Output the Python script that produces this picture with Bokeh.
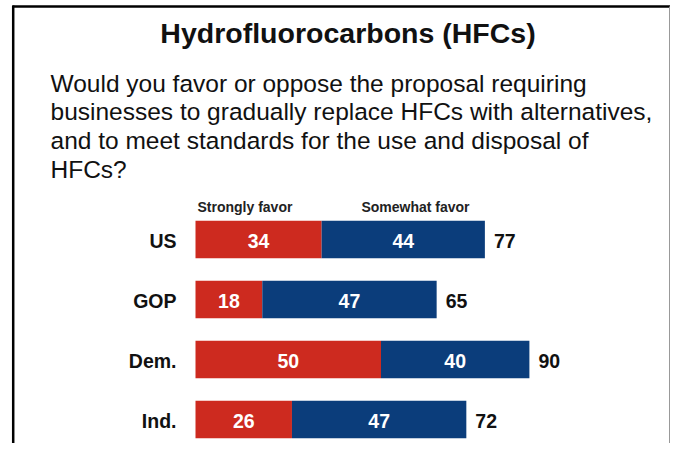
from bokeh.plotting import figure
from bokeh.models import Range1d, ColumnDataSource, Label
from bokeh.embed import file_html
from bokeh.resources import INLINE
from bokeh.core.properties import value

# ---- data ----
groups = ["US", "GOP", "Dem.", "Ind."]
strongly = [34, 18, 50, 26]
somewhat = [44, 47, 40, 47]
totals = [77, 65, 90, 72]
series_names = ["Strongly favor", "Somewhat favor"]
title_text = "Hydrofluorocarbons (HFCs)"
question_lines = [
    "Would you favor or oppose the proposal requiring",
    "businesses to gradually replace HFCs with alternatives,",
    "and to meet standards for the use and disposal of",
    "HFCs?",
]

# ---- layout constants ----
W, H = 670, 443
X0 = 195.0   # pixel of value 0
PX = 3.71    # pixels per percentage point
Y0 = 239.0   # pixel of first row centre
ROW = 60.0   # pixels per row
FONT = "Liberation Sans"
RED = "#CD2A1F"
BLUE = "#0B3D7B"


def dx(px):
    return (px - X0) / PX


def dy(py):
    return (py - Y0) / ROW


p = figure(width=W, height=H,
           x_range=Range1d(dx(0), dx(W)),
           y_range=Range1d(dy(H), dy(0)),
           output_backend="svg", toolbar_location=None,
           min_border=0, x_axis_type=None, y_axis_type=None,
           outline_line_color=None, background_fill_color="white",
           border_fill_color="white")
p.grid.visible = False

idx = list(range(len(groups)))
ends = [a + b for a, b in zip(strongly, somewhat)]
src = ColumnDataSource(dict(
    y=idx, groups=groups, strongly=strongly, somewhat=somewhat,
    totals=totals, ends=ends,
    mid_s=[a / 2 for a in strongly],
    mid_w=[a + b / 2 for a, b in zip(strongly, somewhat)],
    s_txt=[str(v) for v in strongly], w_txt=[str(v) for v in somewhat],
    t_txt=[str(v) for v in totals], zero=[0] * len(groups),
))

BAR_H = 0.628
p.hbar(y="y", left="zero", right="strongly", height=BAR_H, source=src,
       fill_color=RED, line_color=None)
p.hbar(y="y", left="strongly", right="ends", height=BAR_H, source=src,
       fill_color=BLUE, line_color=None)

common = dict(text_font=value(FONT), text_font_style="bold",
              text_font_size="19.5px", text_baseline="middle", y_offset=1)
p.text(x="mid_s", y="y", text="s_txt", source=src, text_color="white",
       text_align="center", **common)
p.text(x="mid_w", y="y", text="w_txt", source=src, text_color="white",
       text_align="center", **common)
p.text(x="ends", y="y", text="t_txt", source=src, text_color="#111111",
       text_align="left", x_offset=9, **common)
p.text(x="zero", y="y", text="groups", source=src, text_color="#111111",
       text_align="right", x_offset=-19, **common)

# series headers
p.add_layout(Label(x=0, y=dy(206), text=series_names[0], text_font=FONT,
                   text_font_style="bold", text_font_size="14px",
                   text_color="#222222", text_align="left",
                   text_baseline="middle", x_offset=2))
p.add_layout(Label(x=dx(415), y=dy(206), text=series_names[1], text_font=FONT,
                   text_font_style="bold", text_font_size="14px",
                   text_color="#222222", text_align="center",
                   text_baseline="middle"))

# title & question
p.add_layout(Label(x=dx(347.5), y=dy(32), text=title_text, text_font=FONT,
                   text_font_style="bold", text_font_size="28.5px",
                   text_color="#111111", text_align="center",
                   text_baseline="middle"))
for i, line in enumerate(question_lines):
    p.add_layout(Label(x=dx(50), y=dy(82.5 + 28.7 * i), text=line, text_font=FONT,
                       text_font_size="24.5px", text_color="#111111",
                       text_align="left", text_baseline="middle"))

# frame lines
p.segment(x0=[dx(12)], y0=[dy(6)], x1=[dx(W)], y1=[dy(6)],
          line_color="black", line_width=2.5)
p.segment(x0=[dx(12.7)], y0=[dy(5)], x1=[dx(12.7)], y1=[dy(H)],
          line_color="black", line_width=2.5)
p.segment(x0=[dx(669)], y0=[dy(6)], x1=[dx(669)], y1=[dy(H)],
          line_color="#999999", line_width=1)

open("out.html", "w").write(file_html(p, INLINE))
